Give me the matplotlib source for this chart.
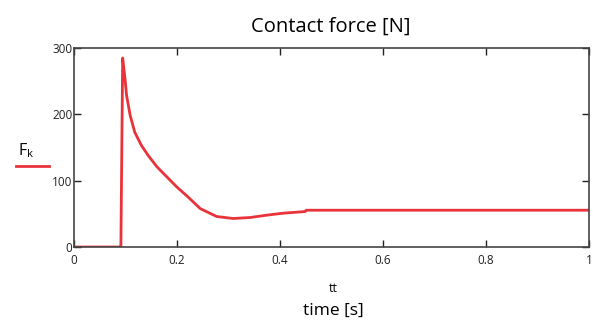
import matplotlib
matplotlib.use("Agg")
import matplotlib.pyplot as plt

# data
t = [0.0, 0.090, 0.091, 0.0945, 0.099, 0.102, 0.109, 0.118, 0.131, 0.145, 0.161,
     0.18, 0.199, 0.222, 0.245, 0.277, 0.309, 0.342, 0.374, 0.406, 0.449, 0.451, 1.0]
F = [0.0, 0.0, 0.0, 285, 254, 229, 198.5, 173, 153, 137, 121,
     106, 91, 75, 58, 46, 43, 44.5, 48, 51, 53.5, 55.5, 55.5]
xticks = [0, 0.2, 0.4, 0.6, 0.8, 1]
xticklabels = ["0", "0.2", "0.4", "0.6", "0.8", "1"]
yticks = [0, 100, 200, 300]
yticklabels = ["0", "100", "200", "300"]

plt.rcParams['font.family'] = ['Open Sans', 'DejaVu Sans']
red = '#e8333a'

fig = plt.figure(figsize=(5.93, 3.27), dpi=100)
ax = fig.add_axes([0.1248, 0.2446, 0.8685, 0.6084])
ax.plot(t, F, color=red, lw=2.0, solid_joinstyle='round', solid_capstyle='butt')
ax.set_xlim(0, 1)
ax.set_ylim(0, 300)
ax.set_xticks(xticks)
ax.set_xticklabels(xticklabels)
ax.set_yticks(yticks)
ax.set_yticklabels(yticklabels)
ax.tick_params(direction='in', length=5, width=1, labelsize=8.5,
               top=True, right=True, colors='#222222')
ax.tick_params(axis='x', pad=5)
ax.tick_params(axis='y', pad=1)
for s in ax.spines.values():
    s.set_color('#444444')
    s.set_linewidth(1.2)

fig.text(0.557, 0.918, 'Contact force [N]', ha='center', va='center', fontsize=14.5)
fig.text(0.5615, 0.119, 'tt', ha='center', va='center', fontsize=9)
fig.text(0.5615, 0.049, 'time [s]', ha='center', va='center', fontsize=12.5)
fig.text(0.030, 0.538, r'F$_{\mathregular{k}}$', ha='left', va='center', fontsize=11.5)
fig.add_artist(plt.Line2D([0.027, 0.083], [0.492, 0.492], color=red, lw=2.0,
                          transform=fig.transFigure))

fig.savefig('out.png', dpi=100)
